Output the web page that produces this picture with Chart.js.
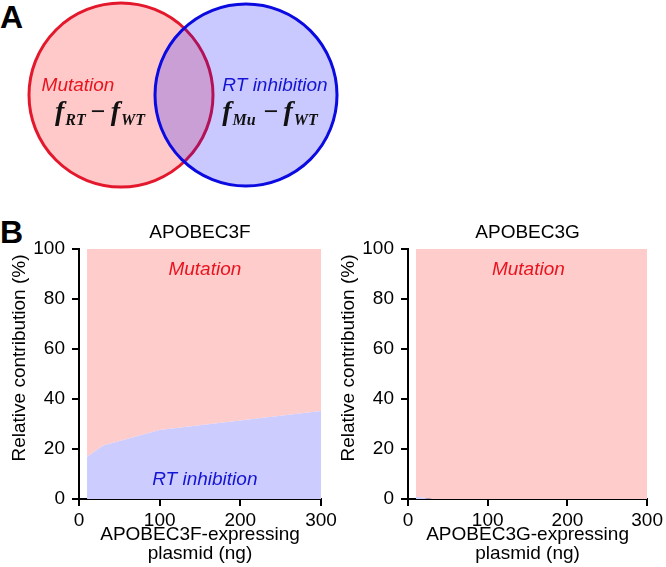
<!DOCTYPE html>
<html><head><meta charset="utf-8">
<script src="https://cdn.jsdelivr.net/npm/chart.js@4"></script>
<style>
html,body{margin:0;padding:0;background:#fff;}
body{width:666px;height:567px;position:relative;overflow:hidden;}
canvas{position:absolute;}
.panel{position:absolute;font:bold 32px "Liberation Sans",Arial,sans-serif;line-height:32px;color:#000;}
</style></head><body>
<div class="panel" style="left:0;top:1px">A</div>
<div class="panel" style="left:0;top:216px">B</div>
<canvas id="venn" width="345" height="197" style="left:0;top:0;width:345px;height:197px"></canvas>
<canvas id="c3f" width="345" height="367" style="left:0;top:200px;width:345px;height:367px"></canvas>
<canvas id="c3g" width="337" height="367" style="left:329px;top:200px;width:337px;height:367px"></canvas>
<script>
// ---------- data ----------
const vennCenterX = [121, 246];
const vennCenterY = [95, 95];
const vennRadius  = [92, 91];
const vennNames   = ['Mutation', 'RT inhibition'];

const doses3F = [10, 30, 100, 300];
const rtInhibition3F = [16.9, 21.4, 27.6, 35.2];
const mutation3F     = [83.1, 78.6, 72.4, 64.8];

const doses3G = [10, 30, 100, 300];
const rtInhibition3G = [0.9, 0, 0, 0];
const mutation3G     = [99.1, 100, 100, 100];

const xTickValues = [0, 100, 200, 300];
const yTickValues = [0, 20, 40, 60, 80, 100];

const FONT = '"Liberation Sans", Arial, sans-serif';
const SERIF = '"Liberation Serif", "Times New Roman", serif';
const RED_TXT = 'rgb(232,20,30)';
const BLUE_TXT = 'rgb(20,20,210)';

// ---------- Venn diagram ----------
function drawFormula(ctx, cx, baseY, parts) {
  let total = 0;
  const ws = parts.map(p => {
    ctx.font = p.font;
    const w = ctx.measureText(p.t).width + (p.gap || 0);
    total += w; return w;
  });
  let x = cx - total / 2;
  ctx.textAlign = 'left'; ctx.textBaseline = 'alphabetic';
  parts.forEach((p, i) => {
    ctx.font = p.font;
    ctx.fillText(p.t, x + (p.pre || 0), baseY + (p.dy || 0));
    x += ws[i];
  });
}
const fMain = `italic bold 28px ${SERIF}`;
const fSub = `italic bold 16px ${SERIF}`;
const fMinus = `bold 26px ${SERIF}`;

const vennText = {
  id: 'vennText',
  afterDatasetsDraw(chart) {
    const {ctx, scales: {x, y}} = chart;
    ctx.save();
    ctx.font = `italic 19px ${FONT}`;
    ctx.textAlign = 'center'; ctx.textBaseline = 'alphabetic';
    ctx.fillStyle = RED_TXT;
    ctx.fillText(vennNames[0], x.getPixelForValue(78), y.getPixelForValue(90.5));
    ctx.fillStyle = BLUE_TXT;
    ctx.fillText(vennNames[1], x.getPixelForValue(275), y.getPixelForValue(90.5));
    ctx.fillStyle = '#111';
    drawFormula(ctx, x.getPixelForValue(100), y.getPixelForValue(119.5), [
      {t: 'f', font: fMain, gap: 1}, {t: 'RT', font: fSub, dy: 5.5, gap: 5},
      {t: '\u2212', font: fMinus, gap: 5}, {t: 'f', font: fMain, gap: 1},
      {t: 'WT', font: fSub, dy: 5.5}
    ]);
    drawFormula(ctx, x.getPixelForValue(270), y.getPixelForValue(119.5), [
      {t: 'f', font: fMain, gap: 1}, {t: 'Mu', font: fSub, dy: 5.5, gap: 8},
      {t: '\u2212', font: fMinus, gap: 5}, {t: 'f', font: fMain, gap: 1},
      {t: 'WT', font: fSub, dy: 5.5}
    ]);
    ctx.restore();
  }
};

new Chart(document.getElementById('venn'), {
  type: 'bubble',
  data: {
    datasets: [{
      data: vennCenterX.map((cx, i) => ({x: cx, y: vennCenterY[i], r: vennRadius[i]})),
      backgroundColor: ['rgba(255,0,0,0.21)', 'rgba(0,0,255,0.21)'],
      borderColor: ['rgb(228,24,44)', 'rgb(10,10,225)'],
      borderWidth: 3,
      clip: false
    }]
  },
  options: {
    responsive: false, animation: false, events: [],
    layout: {padding: 0, autoPadding: false},
    plugins: {legend: {display: false}, tooltip: {enabled: false}},
    scales: {
      x: {type: 'linear', min: 0, max: 345, display: false},
      y: {type: 'linear', min: 0, max: 197, reverse: true, display: false}
    }
  },
  plugins: [vennText]
});

// ---------- area charts ----------
const areaText = {
  id: 'areaText',
  afterDatasetsDraw(chart, args, opts) {
    const {ctx, chartArea, scales: {x, y}} = chart;
    ctx.save();
    ctx.font = `italic 19px ${FONT}`;
    ctx.textAlign = 'center'; ctx.textBaseline = 'alphabetic';
    (opts.labels || []).forEach(l => {
      ctx.fillStyle = l.color;
      ctx.fillText(l.text, x.getPixelForValue(l.x), y.getPixelForValue(l.y));
    });
    // y axis title
    ctx.translate(20, chartArea.top + 109);
    ctx.rotate(-Math.PI / 2);
    ctx.font = `19px ${FONT}`;
    ctx.fillStyle = '#000';
    ctx.textBaseline = 'middle';
    ctx.fillText('Relative contribution (%)', 0, 0);
    ctx.restore();
  }
};

function makeArea(id, doses, rt, mut, title, xTitle, labels, padRight) {
  return new Chart(document.getElementById(id), {
    type: 'line',
    data: {
      datasets: [
        {label: 'RT inhibition', data: doses.map((d, i) => ({x: d, y: rt[i]})),
         backgroundColor: 'rgb(204,204,255)', borderWidth: 0, borderColor: 'rgba(0,0,0,0)',
         pointRadius: 0, fill: 'origin', tension: 0},
        {label: 'Mutation', data: doses.map((d, i) => ({x: d, y: mut[i]})),
         backgroundColor: 'rgb(255,204,204)', borderWidth: 0, borderColor: 'rgba(0,0,0,0)',
         pointRadius: 0, fill: '-1', tension: 0}
      ]
    },
    options: {
      responsive: false, animation: false, events: [],
      layout: {padding: {left: 0, right: padRight, top: 0, bottom: 0}},
      plugins: {
        legend: {display: false}, tooltip: {enabled: false},
        title: {display: true, text: title, color: '#000', fullSize: false,
                font: {family: FONT, size: 19, weight: 'normal', lineHeight: 1.2},
                padding: {top: 21.6, bottom: 4.6}},
        areaText: {labels}
      },
      scales: {
        x: {
          type: 'linear', min: 0, max: 300,
          afterBuildTicks: s => { s.ticks = xTickValues.map(v => ({value: v})); },
          afterFit: s => { s.height = 68; },
          grid: {display: true, drawOnChartArea: false, drawTicks: true, tickLength: 7, color: '#000', lineWidth: 2},
          border: {display: true, color: '#000', width: 2},
          ticks: {color: '#000', font: {family: FONT, size: 19}, padding: 3, maxRotation: 0, autoSkip: false},
          title: {display: true, text: xTitle, color: '#000',
                  font: {family: FONT, size: 19, lineHeight: 1}, padding: {top: 0, bottom: 3.5}}
        },
        y: {
          type: 'linear', min: 0, max: 100, stacked: true,
          afterBuildTicks: s => { s.ticks = yTickValues.map(v => ({value: v})); },
          afterFit: s => { s.width = 79; },
          grid: {display: true, drawOnChartArea: false, drawTicks: true, tickLength: 7, color: '#000', lineWidth: 2},
          border: {display: true, color: '#000', width: 2},
          ticks: {color: '#000', font: {family: FONT, size: 19}, padding: 7, autoSkip: false}
        }
      }
    },
    plugins: [areaText]
  });
}

makeArea('c3f', doses3F, rtInhibition3F, mutation3F, 'APOBEC3F',
  ['APOBEC3F-expressing', 'plasmid (ng)'],
  [{text: 'Mutation', x: 156, y: 89.6, color: RED_TXT},
   {text: 'RT inhibition', x: 156, y: 5.6, color: BLUE_TXT}], 24);

makeArea('c3g', doses3G, rtInhibition3G, mutation3G, 'APOBEC3G',
  ['APOBEC3G-expressing', 'plasmid (ng)'],
  [{text: 'Mutation', x: 151, y: 89.6, color: RED_TXT}], 17);
</script>
</body></html>
